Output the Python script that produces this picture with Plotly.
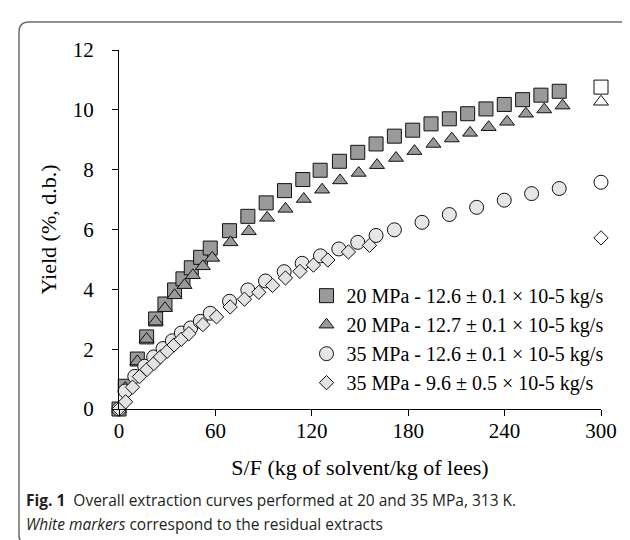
import plotly.graph_objects as go

# ---- data ----
sq_x = [0, 3.9, 11.4, 17.2, 22.8, 28.6, 34.6, 39.8, 45, 50.8, 56.8, 68.8, 80.2, 91.6, 103, 114.4,
        125.2, 137.2, 148.6, 160, 171.4, 182.8, 194.2, 205.6, 217, 228.4, 239.8, 251.2, 262.6, 274]
sq_y = [0, 0.76, 1.67, 2.41, 3.01, 3.51, 3.98, 4.35, 4.72, 5.07, 5.38, 5.96, 6.44, 6.89, 7.30, 7.67,
        7.98, 8.28, 8.58, 8.86, 9.12, 9.32, 9.53, 9.70, 9.87, 10.03, 10.18, 10.34, 10.49, 10.62]
sq_res_x = [300]
sq_res_y = [10.76]

tri_x = [0, 3.9, 11.4, 17.2, 22.8, 28.6, 34.6, 40.8, 46, 52.2, 58, 69.4, 80.8, 92.2, 103.6, 115,
         126.4, 137.6, 149.2, 160.6, 172.4, 183.9, 195.7, 207.1, 218.5, 230.1, 241.5, 253.3, 264.7, 276.1]
tri_y = [0, 0.70, 1.59, 2.34, 2.92, 3.37, 3.80, 4.14, 4.47, 4.77, 5.05, 5.57, 5.94, 6.39, 6.69, 7.02,
         7.33, 7.64, 7.89, 8.15, 8.39, 8.62, 8.86, 9.04, 9.23, 9.42, 9.60, 9.87, 10.01, 10.14]
tri_res_x = [300]
tri_res_y = [10.27]

cir_x = [0, 3.9, 9.8, 16, 21.6, 27.4, 33.2, 38.8, 44.6, 50.6, 56.8, 68.8, 80.2, 91.2, 102.8, 114,
         125.4, 136.8, 148.6, 160, 171.4, 188.6, 205.6, 222.6, 239.8, 256.8, 274]
cir_y = [0, 0.60, 1.09, 1.43, 1.74, 2.02, 2.28, 2.54, 2.71, 2.93, 3.20, 3.60, 3.98, 4.28, 4.59, 4.87,
         5.12, 5.35, 5.57, 5.80, 5.99, 6.24, 6.50, 6.74, 6.98, 7.20, 7.37]
cir_res_x = [300]
cir_res_y = [7.58]

dia_x = [0, 4.1, 8.4, 12.7, 17.4, 21.7, 25.8, 30.0, 34.3, 38.8, 43.5, 52.2, 60.7, 69.2, 78.1, 87,
         95.6, 103.6, 112.6, 121, 130, 142.8, 155.9]
dia_y = [0, 0.24, 0.73, 1.08, 1.32, 1.52, 1.74, 1.93, 2.14, 2.33, 2.52, 2.82, 3.08, 3.41, 3.67, 3.90,
         4.13, 4.38, 4.60, 4.81, 4.98, 5.25, 5.47]
dia_res_x = [300]
dia_res_y = [5.72]

names = ["20 MPa - 12.6 ± 0.1 × 10-5 kg/s",
         "20 MPa - 12.7 ± 0.1 × 10-5 kg/s",
         "35 MPa - 12.6 ± 0.1 × 10-5 kg/s",
         "35 MPa - 9.6 ± 0.5 × 10-5 kg/s"]

x_ticks = [0, 60, 120, 180, 240, 300]
y_ticks = [0, 2, 4, 6, 8, 10, 12]

# ---- figure ----
fig = go.Figure()
series = [
    (sq_x, sq_y, sq_res_x, sq_res_y, "square", 14, "#9a9a9a"),
    (tri_x, tri_y, tri_res_x, tri_res_y, "triangle-up", 13, "#9a9a9a"),
    (cir_x, cir_y, cir_res_x, cir_res_y, "circle", 14, "#e6e6e6"),
    (dia_x, dia_y, dia_res_x, dia_res_y, "diamond", 11, "#e3e3e3"),
]
for i, (xs, ys, rx, ry, sym, size, col) in enumerate(series):
    fig.add_trace(go.Scatter(
        x=xs, y=ys, mode="markers", name=names[i], legendgroup=f"g{i}",
        marker=dict(symbol=sym, size=size, color=col, line=dict(color="#111111", width=1)),
        cliponaxis=False))
for i, (xs, ys, rx, ry, sym, size, col) in enumerate(series):
    fig.add_trace(go.Scatter(
        x=rx, y=ry, mode="markers", showlegend=False, legendgroup=f"g{i}",
        marker=dict(symbol=sym, size=size, color="white", line=dict(color="#111111", width=1)),
        cliponaxis=False))

serif = "Liberation Serif, Times New Roman, serif"
axis_common = dict(showline=True, linecolor="black", linewidth=1, ticks="outside", ticklen=6,
                   tickcolor="black", showgrid=False, zeroline=False,
                   tickfont=dict(family=serif, size=21, color="black"))

fig.update_layout(
    width=630, height=540,
    margin=dict(l=111, r=37, t=42, b=139),
    paper_bgcolor="white", plot_bgcolor="white",
    showlegend=True,
    legend=dict(x=0.389, y=0.37, xanchor="left", yanchor="top",
                font=dict(family=serif, size=20, color="black"),
                bgcolor="rgba(0,0,0,0)", traceorder="grouped", tracegroupgap=0,
                itemwidth=30),
    xaxis=dict(range=[0, 300], tickvals=x_ticks, ticklabelstandoff=-3,
               title=dict(text="S/F (kg of solvent/kg of lees)", font=dict(family=serif, size=22, color="black"),
                          standoff=17),
               **axis_common),
    yaxis=dict(range=[0, 12], tickvals=y_ticks, ticklabelstandoff=14,
               title=dict(text="Yield (%, d.b.)", font=dict(family=serif, size=22, color="black"),
                          standoff=10),
               **axis_common),
)

# outer rounded frame (paper coordinates computed from pixel geometry)
pw, ph = 630 - 111 - 37, 540 - 42 - 139
def px(x):
    return (x - 111) / pw
def py(y):
    return (540 - 139 - y) / ph
L, R, T, B, r = 11, 626, 14, 537, 10
path = (f"M {px(L+r)},{py(T)} L {px(R-r)},{py(T)} Q {px(R)},{py(T)} {px(R)},{py(T+r)} "
        f"L {px(R)},{py(B-r)} Q {px(R)},{py(B)} {px(R-r)},{py(B)} "
        f"L {px(L+r)},{py(B)} Q {px(L)},{py(B)} {px(L)},{py(B-r)} "
        f"L {px(L)},{py(T+r)} Q {px(L)},{py(T)} {px(L+r)},{py(T)} Z")
fig.add_shape(type="path", path=path, xref="paper", yref="paper",
              line=dict(color="#6d6d6d", width=1.5), layer="below")

sans = "Open Sans, Noto Sans, sans-serif"
fig.add_annotation(x=px(16), y=py(492), xref="paper", yref="paper", xanchor="left", yanchor="middle",
                   showarrow=False, align="left",
                   text="<b>Fig. 1</b>  Overall extraction curves performed at 20 and 35 MPa, 313 K.",
                   font=dict(family=sans, size=15.5, color="#231f20"))
fig.add_annotation(x=px(16), y=py(516), xref="paper", yref="paper", xanchor="left", yanchor="middle",
                   showarrow=False, align="left",
                   text="<i>White markers</i> correspond to the residual extracts",
                   font=dict(family=sans, size=15.5, color="#231f20"))

fig.write_html("out.html")
